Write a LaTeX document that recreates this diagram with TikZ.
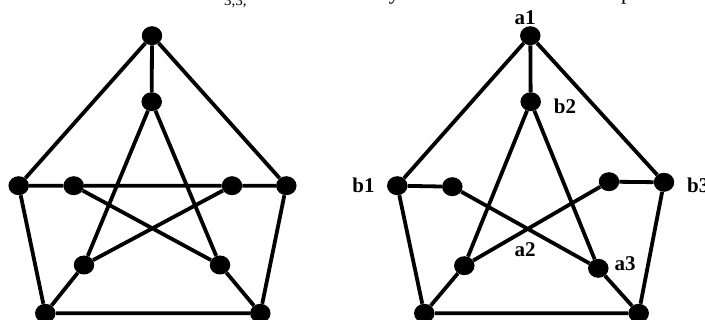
\documentclass[tikz,border=0pt]{standalone}
\usepackage{fontspec}
\setmainfont{Liberation Serif}
\usetikzlibrary{shapes.geometric}
\begin{document}
\begin{tikzpicture}[x=1pt,y=-1pt,
  vtx/.style={ellipse,fill=black,inner sep=0pt,minimum width=20.5pt,minimum height=19pt},
  edge/.style={line width=3.8pt},
  lbl/.style={font=\bfseries\fontsize{21}{21}\selectfont,inner sep=0pt,anchor=base},
  toptext/.style={font=\fontsize{22}{22}\selectfont,inner sep=0pt}]
\useasboundingbox (0,0) rectangle (705,320);
\clip (0,0) rectangle (705,320);
% clipped caption line at the top
\node[toptext,anchor=base east] (t1) at (222,0) {is a subdivision of K};
\node[toptext,anchor=base west,font=\fontsize{15}{15}\selectfont] (t2) at (224,5.5) {3,3,};
\node[toptext,anchor=base east] (t3) at (400,0) {it is clearly};
\node[toptext,anchor=base west] (t4) at (412,0) {and therefore it is not a planar};
% left graph
\node[vtx] (Lt) at (152,35.7) {};
\node[vtx] (Lit) at (151.7,101.7) {};
\node[vtx] (Lol) at (18.7,185.7) {};
\node[vtx] (Lil) at (73.7,185.7) {};
\node[vtx] (Lir) at (232,185.7) {};
\node[vtx] (Lor) at (286.3,185.7) {};
\node[vtx] (Libl) at (84,265) {};
\node[vtx] (Libr) at (220,265) {};
\node[vtx] (Lobl) at (45.3,313.3) {};
\node[vtx] (Lobr) at (260.3,313.3) {};
\draw[edge] (Lt)--(Lol) (Lt)--(Lor) (Lt)--(Lit)
  (Lol)--(Lil) (Lil)--(Lir) (Lir)--(Lor)
  (Lol)--(Lobl) (Lor)--(Lobr) (Lobl)--(Lobr)
  (Lobl)--(Libl) (Lobr)--(Libr)
  (Lit)--(Libl) (Lit)--(Libr) (Lil)--(Libr) (Lir)--(Libl);
% right graph
\node[vtx] (a1) at (530.3,35.7) {};
\node[vtx] (b2) at (530.7,101.7) {};
\node[vtx] (b1) at (397.3,185.7) {};
\node[vtx] (Ril) at (452.3,186.7) {};
\node[vtx] (Rir) at (609,181.7) {};
\node[vtx] (b3) at (664,182.3) {};
\node[vtx] (a2) at (464.3,265.7) {};
\node[vtx] (a3) at (598.3,268.3) {};
\node[vtx] (Rbl) at (424.3,313.3) {};
\node[vtx] (Rbr) at (638.7,313.3) {};
\draw[edge] (a1)--(b1) (a1)--(b3) (a1)--(b2)
  (b1)--(Ril) (Rir)--(b3)
  (b1)--(Rbl) (b3)--(Rbr) (Rbl)--(Rbr)
  (Rbl)--(a2) (Rbr)--(a3)
  (b2)--(a2) (b2)--(a3) (Ril)--(a3) (Rir)--(a2);
% labels
\node[lbl] (la1) at (525,25) {a1};
\node[lbl] (lb2) at (565,114) {b2};
\node[lbl] (lb1) at (363.5,193) {b1};
\node[lbl,anchor=base west] (lb3) at (687,193) {b3};
\node[lbl] (la2) at (525,257) {a2};
\node[lbl] (la3) at (625,271) {a3};
\end{tikzpicture}
\end{document}
